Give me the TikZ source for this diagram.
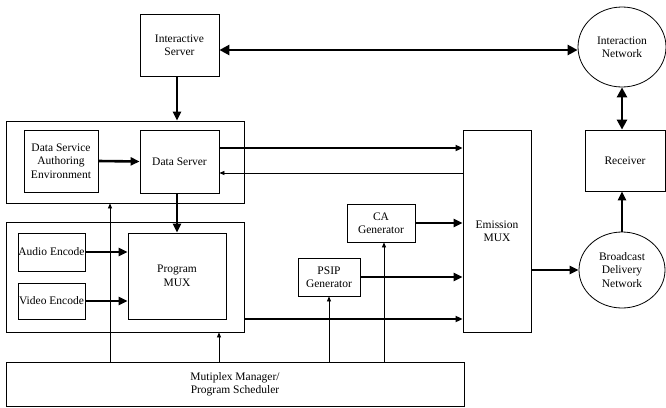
\documentclass[tikz,border=0pt]{standalone}
\usepackage{fontspec}
\setmainfont{Liberation Serif}
\usetikzlibrary{arrows.meta,shapes.geometric}
\begin{document}
\begin{tikzpicture}[x=1pt,y=-1pt,
  every node/.style={font=\fontsize{11.5}{13.5}\selectfont, align=center, inner sep=0pt},
  blk/.style={draw, line width=0.8pt, rectangle},
  ell/.style={draw, line width=0.8pt, ellipse},
  thk/.style={line width=2.6pt, -{Triangle[length=9pt,width=8pt]}},
  thkb/.style={line width=2.6pt, {Triangle[length=10pt,width=10pt]}-{Triangle[length=10pt,width=10pt]}},
  med/.style={line width=1.8pt, -{Triangle[length=7pt,width=6pt]}},
  thn/.style={line width=0.8pt, -{Triangle[length=5pt,width=4pt]}}]
\useasboundingbox (0,0) rectangle (666,407);
% boxes
\node[blk, minimum width=79pt, minimum height=62pt] (IS) at (179.5,45) {Interactive\\Server};
\node[ell, minimum width=88pt, minimum height=80pt] (INet) at (622,47) {Interaction\\Network};
\node[blk, minimum width=238pt, minimum height=82pt] (box1) at (125,162) {};
\node[blk, minimum width=74pt, minimum height=62pt] (DSAE) at (61,161) {Data Service\\Authoring\\Environment};
\node[blk, minimum width=79pt, minimum height=63pt] (DS) at (179.5,161.5) {Data Server};
\node[blk, minimum width=238pt, minimum height=110pt] (box2) at (125,277) {};
\node[blk, minimum width=67pt, minimum height=38pt] (AE) at (51.5,252) {};
\node at (AE) {Audio Encode};
\node[blk, minimum width=67pt, minimum height=36pt] (VE) at (51.5,301) {};
\node at (VE) {Video Encode};
\node[blk, minimum width=98pt, minimum height=86pt] (PM) at (177,276) {Program\\MUX};
\node[blk, minimum width=68pt, minimum height=38pt] (CA) at (381,223) {CA\\Generator};
\node[blk, minimum width=62pt, minimum height=38pt] (PSIP) at (329,277) {PSIP\\Generator};
\node[blk, minimum width=68pt, minimum height=202pt] (EM) at (497,231) {Emission\\MUX};
\node[blk, minimum width=80pt, minimum height=61pt] (RX) at (625,160.5) {Receiver};
\node[ell, minimum width=86pt, minimum height=76pt] (BDN) at (622,270) {Broadcast\\Delivery\\Network};
\node[blk, minimum width=458pt, minimum height=44pt] (MM) at (235,384) {Mutiplex Manager/\\Program Scheduler};
% coordinates on MM top
\coordinate (m1) at (110,362);
\coordinate (m2) at (219,362);
\coordinate (m3) at (329,362);
\coordinate (m4) at (384,362);
% connectors
\draw[thkb] ([yshift=-5pt]IS.east) -- ([yshift=-5pt]IS.east -| INet.west);
\draw[thk] (IS.south -| PM.north) -- (box1.north -| PM.north);
\draw[thk] (DSAE.east) -- (DS.west);
\draw[med] ([yshift=13.5pt]DS.east) -- ([yshift=13.5pt]DS.east -| EM.west);
\draw[thn] ([yshift=-11.5pt]DS.east -| EM.west) -- ([yshift=-11.5pt]DS.east);
\draw[thk] (DS.south -| PM.north) -- (PM.north);
\draw[thk] (AE.east) -- (AE.east -| PM.west);
\draw[thk] (VE.east) -- (VE.east -| PM.west);
\draw[med] ([yshift=-42pt]box2.east) -- ([yshift=-42pt]box2.east -| EM.west);
\draw[thk] (CA.east) -- (CA.east -| EM.west);
\draw[thk] (PSIP.east) -- (PSIP.east -| EM.west);
\draw[thk] (EM.east |- BDN.west) -- (BDN.west);
\draw[thk] (BDN.north) -- (BDN.north |- RX.south);
\draw[thkb] (INet.south) -- (INet.south |- RX.north);
\draw[thn] (m1) -- (m1 |- box1.south);
\draw[thn] (m2) -- (m2 |- box2.south);
\draw[thn] (m3) -- (m3 |- PSIP.south);
\draw[thn] (m4) -- (m4 |- CA.south);
\end{tikzpicture}
\end{document}
